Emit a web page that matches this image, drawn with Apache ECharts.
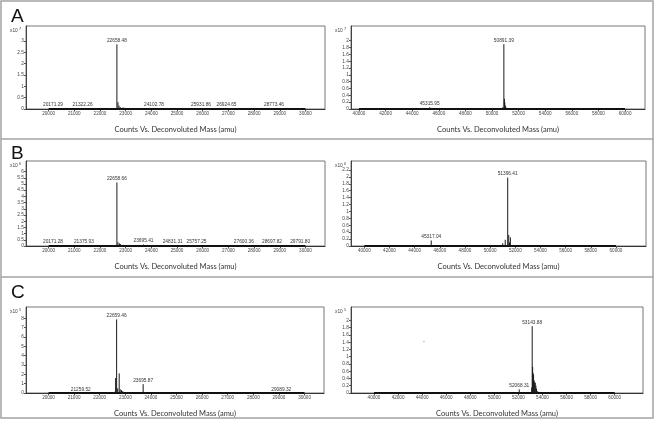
<!DOCTYPE html>
<html>
<head>
<meta charset="utf-8">
<script src="https://cdn.jsdelivr.net/npm/echarts@6/dist/echarts.min.js"></script>
<style>
  html, body { margin: 0; padding: 0; background: #fff; }
  #m1 { width: 655px; height: 421px; }
</style>
</head>
<body>
<div id="m1"></div>
<script>
    // tick labels
    var massTicksLow = [20000, 21000, 22000, 23000, 24000, 25000, 26000, 27000, 28000, 29000, 30000];
    var massTicksHigh = [40000, 42000, 44000, 46000, 48000, 50000, 52000, 54000, 56000, 58000, 60000];
    var yTicksA1 = [0, 0.5, 1, 1.5, 2, 2.5, 3];
    var yTicksA2 = [0, 0.2, 0.4, 0.6, 0.8, 1, 1.2, 1.4, 1.6, 1.8, 2];
    var yTicksB1 = [0, 0.5, 1, 1.5, 2, 2.5, 3, 3.5, 4, 4.5, 5, 5.5, 6];
    var yTicksB2 = [0, 0.2, 0.4, 0.6, 0.8, 1, 1.2, 1.4, 1.6, 1.8, 2, 2.2];
    var yTicksC1 = [0, 1, 2, 3, 4, 5, 6, 7, 8];
    var yTicksC2 = [0, 0.2, 0.4, 0.6, 0.8, 1, 1.2, 1.4, 1.6, 1.8, 2];
    var panelLetters = ['A', 'B', 'C'];
    var scaleExp = ['7', '7', '6', '6', '5', '5'];
    var axisTitle = 'Counts Vs. Deconvoluted Mass (amu)';

    // baselines (mass range of the recorded spectrum)
    var baseLow = [20000, 30000];
    var baseHigh = [40000, 60000];

    // peaks: [mass, intensity]
    var peaksA1 = [[20171.29, 0.02], [21322.26, 0.02], [22658.48, 2.85], [22700, 0.3], [22740, 0.15],
        [22790, 0.08], [22900, 0.07], [22960, 0.05], [24102.78, 0.02], [25931.86, 0.02],
        [26924.65, 0.02], [28773.46, 0.02]];
    var labelsA1 = [[20171.29, 0.02], [21322.26, 0.02], [22658.48, 2.85], [24102.78, 0.02],
        [25931.86, 0.02], [26924.65, 0.02], [28773.46, 0.02]];

    var peaksA2 = [[45315.95, 0.05], [50700, 0.03], [50800, 0.05], [50891.39, 1.9], [50930, 0.3],
        [50960, 0.2], [51000, 0.1], [51050, 0.05]];
    var labelsA2 = [[45315.95, 0.05], [50891.39, 1.9]];

    var peaksB1 = [[20171.28, 0.03], [21375.93, 0.03], [22658.66, 5.12], [22700, 0.3], [22760, 0.2],
        [22800, 0.15], [22900, 0.1], [23695.41, 0.12], [24831.31, 0.03], [25757.25, 0.03],
        [27600.36, 0.03], [28697.82, 0.03], [29791.80, 0.03]];
    var labelsB1 = [[20171.28, 0.03], [21375.93, 0.03], [22658.66, 5.12], [23695.41, 0.12],
        [24831.31, 0.03], [25757.25, 0.03], [27600.36, 0.03], [28697.82, 0.03], [29791.80, 0.03]];

    var peaksB2 = [[45317.04, 0.16], [51000, 0.08], [51200, 0.18], [51396.41, 1.98], [51480, 0.32],
        [51540, 0.1], [51610, 0.25]];
    var labelsB2 = [[45317.04, 0.16], [51396.41, 1.98]];

    var peaksC1 = [[21259.52, 0.03], [22550, 0.1], [22600, 0.15], [22620, 1.6], [22659.46, 7.87],
        [22700, 0.5], [22760, 2.1], [22800, 0.4], [22850, 0.3], [22900, 0.2], [23695.87, 0.95],
        [23750, 0.1], [29089.32, 0.03]];
    var labelsC1 = [[21259.52, 0.03], [22659.46, 7.87], [23695.87, 0.95], [29089.32, 0.03]];

    var peaksC2 = [[52068.31, 0.1], [53100, 0.15], [53143.88, 1.84], [53180, 0.72], [53220, 0.55],
        [53260, 0.5], [53300, 0.35], [53350, 0.3], [53400, 0.28], [53450, 0.2], [53500, 0.12],
        [53600, 0.05], [55000, 0.03]];
    var labelsC2 = [[52068.31, 0.1], [53143.88, 1.84]];
    var strayC2 = [[44150, 1.42]];

    function initSpectra() {
        var myChart = echarts.init(document.getElementById('m1'));

        var panels = [
            { box: [26, 26, 299, 83], x: [19120, 30760], yMax: 3.66, xt: massTicksLow, yt: yTicksA1, base: baseLow, peaks: peaksA1, labels: labelsA1 },
            { box: [351, 26, 294, 83], x: [39400, 61500], yMax: 2.43, xt: massTicksHigh, yt: yTicksA2, base: baseHigh, peaks: peaksA2, labels: labelsA2 },
            { box: [26, 161, 299, 85], x: [19120, 30760], yMax: 6.85, xt: massTicksLow, yt: yTicksB1, base: baseLow, peaks: peaksB1, labels: labelsB1 },
            { box: [351, 161, 295, 85], x: [38940, 62390], yMax: 2.46, xt: massTicksHigh, yt: yTicksB2, base: baseHigh, peaks: peaksB2, labels: labelsB2 },
            { box: [26, 307, 298, 86], x: [19120, 30760], yMax: 9.2, xt: massTicksLow, yt: yTicksC1, base: baseLow, peaks: peaksC1, labels: labelsC1 },
            { box: [351, 307, 292, 86], x: [38090, 62350], yMax: 2.37, xt: massTicksHigh, yt: yTicksC2, base: baseHigh, peaks: peaksC2, labels: labelsC2 }
        ];

        var grid = [], xAxis = [], yAxis = [], series = [];
        var graphic = [
            { type: 'rect', shape: { x: 1, y: 1, width: 652, height: 417 }, style: { fill: 'none', stroke: '#a3a3a3', lineWidth: 1.5 }, z: 10 },
            { type: 'line', shape: { x1: 1, y1: 139, x2: 653, y2: 139 }, style: { stroke: '#a3a3a3', lineWidth: 1.5 }, z: 10 },
            { type: 'line', shape: { x1: 1, y1: 277, x2: 653, y2: 277 }, style: { stroke: '#a3a3a3', lineWidth: 1.5 }, z: 10 }
        ];
        var letterY = [7, 144, 283];
        panelLetters.forEach(function (t, i) {
            graphic.push({
                type: 'text', left: 11, top: letterY[i],
                style: { text: t, font: '19px "Liberation Sans", Arial, sans-serif', fill: '#111' }
            });
        });

        panels.forEach(function (p, i) {
            grid.push({
                left: p.box[0], top: p.box[1], width: p.box[2], height: p.box[3],
                show: true, borderColor: '#777', borderWidth: 1, backgroundColor: '#fff'
            });
            xAxis.push({
                type: 'value', gridIndex: i, min: p.x[0], max: p.x[1],
                name: axisTitle, nameLocation: 'middle', nameGap: 17,
                nameTextStyle: { fontFamily: 'Lato', fontSize: 7.5, color: '#333' },
                axisLine: { show: true, lineStyle: { color: '#333', width: 1 } },
                axisTick: { show: true, length: 2, customValues: p.xt, lineStyle: { color: '#555' } },
                axisLabel: {
                    customValues: p.xt, fontSize: 4.6, color: '#444', margin: 2, fontFamily: 'Liberation Sans',
                    formatter: function (v) { return String(v); }
                },
                splitLine: { show: false }
            });
            yAxis.push({
                type: 'value', gridIndex: i, min: 0, max: p.yMax,
                axisLine: { show: true, lineStyle: { color: '#444', width: 1 } },
                axisTick: { show: true, length: 2, customValues: p.yt, lineStyle: { color: '#555' } },
                axisLabel: {
                    customValues: p.yt, fontSize: 4.8, color: '#444', margin: 2, fontFamily: 'Liberation Sans',
                    formatter: function (v) { return String(v); }
                },
                splitLine: { show: false }
            });
            // x10^n scale note
            graphic.push({
                type: 'text', left: p.box[0] - 16, top: p.box[1] + 2,
                style: { text: 'x10', font: '4.8px "Liberation Sans", Arial', fill: '#444' }
            });
            graphic.push({
                type: 'text', left: p.box[0] - 7, top: p.box[1] + 0.5,
                style: { text: scaleExp[i], font: '3.8px "Liberation Sans", Arial', fill: '#444' }
            });
            series.push({
                type: 'line', xAxisIndex: i, yAxisIndex: i, silent: true, showSymbol: false,
                data: [[p.base[0], 0], [p.base[1], 0]],
                lineStyle: { color: '#111', width: 2 }, z: 3
            });
            series.push({
                type: 'custom', xAxisIndex: i, yAxisIndex: i, silent: true,
                data: p.peaks,
                renderItem: function (params, api) {
                    var a = api.coord([api.value(0), 0]);
                    var b = api.coord([api.value(0), api.value(1)]);
                    return {
                        type: 'line',
                        shape: { x1: a[0], y1: a[1], x2: b[0], y2: b[1] },
                        style: { stroke: '#1a1a1a', lineWidth: 1 }
                    };
                }, z: 4
            });
            series.push({
                type: 'custom', xAxisIndex: i, yAxisIndex: i, silent: true,
                data: p.labels,
                renderItem: function (params, api) {
                    var b = api.coord([api.value(0), api.value(1)]);
                    return {
                        type: 'text',
                        x: b[0], y: b[1] - 1,
                        style: {
                            text: api.value(0).toFixed(2),
                            font: '4.8px "Liberation Sans", Arial',
                            fill: '#333', align: 'center', verticalAlign: 'bottom'
                        }
                    };
                }, z: 5
            });
        });

        series.push({
            type: 'scatter', xAxisIndex: 5, yAxisIndex: 5, silent: true,
            data: strayC2, symbolSize: 1.5, itemStyle: { color: '#999' }
        });

        var option = {
            backgroundColor: '#fff',
            animation: false,
            grid: grid,
            xAxis: xAxis,
            yAxis: yAxis,
            series: series,
            graphic: graphic
        };
        myChart.setOption(option);
    }

    initSpectra();
</script>
</body>
</html>
